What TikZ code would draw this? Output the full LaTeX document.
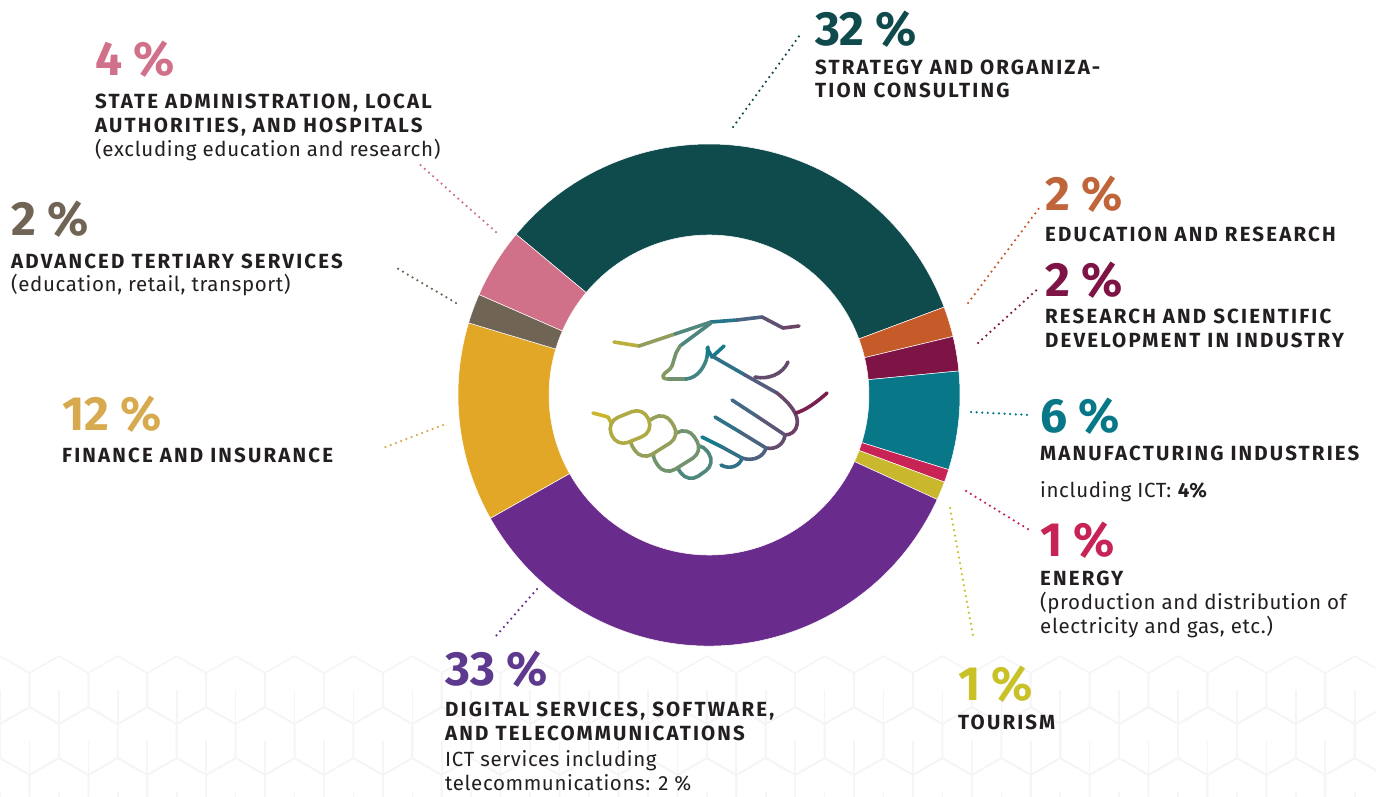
\documentclass[tikz,border=0pt]{standalone}
\usepackage{fontspec}
\setmainfont{Fira Sans}
\newfontfamily\capsfont[LetterSpace=10.5]{Fira Sans}
\newfontfamily\subfont[LetterSpace=3]{Fira Sans}

% sector colours
\definecolor{cStrat}{RGB}{15,74,76}
\definecolor{cEdu}{RGB}{198,91,42}
\definecolor{cRsd}{RGB}{126,20,69}
\definecolor{cManu}{RGB}{8,120,137}
\definecolor{cEner}{RGB}{200,35,85}
\definecolor{cTour}{RGB}{201,183,45}
\definecolor{cDigi}{RGB}{106,44,140}
\definecolor{cFin}{RGB}{226,167,38}
\definecolor{cAdv}{RGB}{112,100,84}
\definecolor{cState}{RGB}{208,113,137}
% label colours
\definecolor{cText}{RGB}{35,31,32}
\definecolor{cFinT}{RGB}{216,170,80}
\definecolor{cEduT}{RGB}{192,101,58}
\definecolor{cTourT}{RGB}{201,193,40}
\definecolor{cDigiT}{RGB}{94,58,143}
\definecolor{cHex}{RGB}{247,244,245}
% handshake gradient stops
\definecolor{hA}{RGB}{201,182,42}
\definecolor{hB}{RGB}{176,170,69}
\definecolor{hC}{RGB}{142,156,94}
\definecolor{hD}{RGB}{94,138,122}
\definecolor{hE}{RGB}{21,123,139}
\definecolor{hF}{RGB}{63,108,133}
\definecolor{hG}{RGB}{88,90,124}
\definecolor{hH}{RGB}{107,68,102}
\definecolor{hI}{RGB}{126,20,72}

\tikzset{
  pct/.style={anchor=base west, inner sep=0pt, font=\fontsize{48}{48}\selectfont\bfseries},
  lbl/.style={anchor=base west, inner sep=0pt, text=cText, font=\fontsize{20.5}{24}\selectfont\capsfont\bfseries},
  sub/.style={anchor=base west, inner sep=0pt, text=cText, font=\fontsize{20.5}{24}\selectfont\subfont},
  lead/.style={line width=2.5pt, line cap=round, dash pattern=on 0pt off 5.6pt},
  hexline/.style={draw=cHex, line width=1.6pt},
  hs/.style={line width=3.6pt, line cap=round, line join=round},
  finger/.style={hs, fill=white, rounded corners=12.5pt}
}

\begin{document}
\begin{tikzpicture}[x=1pt,y=1pt,yscale=-1]
\useasboundingbox (0,0) rectangle (1376,796);
\fill[white] (0,0) rectangle (1376,796);

% faint cube pattern at the bottom
\begin{scope}
\clip (0,655) rectangle (1376,796);
\foreach \r in {0,...,3} {
  \foreach \k in {0,...,24} {
    \draw[hexline] ({\k*58.9+mod(\r,2)*29.45},{690+\r*51}) +(30:34) -- +(90:34) -- +(150:34) -- +(210:34) -- +(270:34) -- +(330:34) -- cycle;
    \draw[hexline] ({\k*58.9+mod(\r,2)*29.45},{690+\r*51}) -- +(90:34);
  }
}
\end{scope}

% ring sectors
\foreach \a/\b/\c in {-140.2/-20.5/cStrat, -20.5/-13.5/cEdu, -13.5/-5.5/cRsd, -5.5/17.3/cManu, 17.3/20.3/cEner, 20.3/24.6/cTour, 24.6/150.6/cDigi, 150.6/196.7/cFin, 196.7/203.6/cAdv, 203.6/219.8/cState}
  \fill[\c, draw=white, line width=0.5pt] ([shift={(709,395)}]\a:251) arc[start angle=\a, end angle=\b, radius=251] -- ([shift={(709,395)}]\b:160) arc[start angle=\b, end angle=\a, radius=160] -- cycle;

% handshake: upper arm and thumb
\draw[hs, hA!40!hB] (614,342) -- (639,346);
\draw[hs, hC!90!hB] (639,346) -- (675,334);
\draw[hs, hD!85!hE] (675,334) -- (711,322);
\draw[hs, hE!57!hF] (711,322) -- (737,320);
\draw[hs, hF!60!hG] (737,320) -- (762,317);
\draw[hs, hG!60!hH] (762,317) -- (783,328);
\draw[hs, hH] (783,328) -- (799,326);
\draw[hs, hD!75!hE] (711,323) -- (680,346);
\draw[hs, hC!45!hD] (680,346) -- (676,353) -- (672,366);
\draw[hs, hC!80!hD] (672,366) .. controls (670,371) and (664,372) .. (663,376) .. controls (663,379) and (666,379) .. (670,379);
\draw[hs, hC!40!hD] (670,379) -- (686,379);
\draw[hs, hD!60!hE] (686,379) .. controls (698,378) and (705,366) .. (707,357);
\draw[hs, hD!20!hE] (707,357) -- (708,347);
\draw[hs, hE] (707,348) -- (712,357) -- (724,346);
% handshake: right hand
\draw[hs, hE!43!hF] (712,356) -- (745,375);
\draw[hs, hF!16!hG] (745,375) -- (777,393);
\draw[hs, hH!80!hG] (777,393) .. controls (792,405) and (799,416) .. (797,425);
\draw[hs, hH!90!hI] (797,425) .. controls (796,431) and (791,435) .. (785,435);
\draw[hs, hG!40!hH] (785,435) .. controls (784,444) and (776,450) .. (766,448);
\draw[hs, hF!44!hG] (766,448) .. controls (764,456) and (754,462) .. (742,458);
\draw[hs, hE!32!hF] (742,458) .. controls (740,466) and (730,470) .. (721,465);
\draw[hs, hG!30!hH] (788,362) .. controls (783,374) and (768,380) .. (755,377);
\draw[hs, hI!75!hH] (827,393) .. controls (817,402) and (806,410) .. (796,413);
\draw[hs, hF!80!hG] (732,400) -- (758,417);
\draw[hs, hG!80!hH] (758,417) -- (785,435);
\draw[hs, hE!43!hF] (715,417) -- (740,432);
\draw[hs, hF!48!hG] (740,432) -- (766,448);
\draw[hs, hE] (702,437) -- (722,447);
\draw[hs, hE!29!hF] (722,447) -- (742,458);
% handshake: lower arm and fingers
\draw[hs, hA] (593,413) -- (608,417);
\draw[hs, hA!70!hB] (608,417) -- (613,426);
\foreach \cx/\cy/\l/\w/\t/\c in {694/462/34/28/-35/hD!77!hE, 676/451/46/30/-32/hC!43!hD, 653/436/46/30/-32/hC!80!hB, 630/427/40/27/-22/hB}
  \draw[finger, draw=\c, rotate around={\t:(\cx,\cy)}] ({\cx-\l/2},{\cy-\w/2}) rectangle ({\cx+\l/2},{\cy+\w/2});

% leaders
\coordinate (l32a) at (733,127);  \coordinate (l32b) at (800,35);
\coordinate (l4a) at (496,232);   \coordinate (l4b) at (417,162);
\coordinate (l2aa) at (456,303);  \coordinate (l2ab) at (395,267);
\coordinate (l12a) at (443,425);  \coordinate (l12b) at (383,448);
\coordinate (l33a) at (537,589);  \coordinate (l33b) at (496,636);
\coordinate (l2ea) at (968,303);  \coordinate (l2eb) at (1040,207);
\coordinate (l2ra) at (978,343);  \coordinate (l2rb) at (1040,287);
\coordinate (l6a) at (971,412);   \coordinate (l6b) at (1030,415);
\coordinate (l1ea) at (966,491);  \coordinate (l1eb) at (1031,531);
\coordinate (l1ta) at (950,508);  \coordinate (l1tb) at (973,636);
\draw[lead, cStrat] (l32a) -- (l32b);
\draw[lead, cState] (l4a) -- (l4b);
\draw[lead, cAdv] (l2aa) -- (l2ab);
\draw[lead, cFinT] (l12a) -- (l12b);
\draw[lead, cDigi] (l33a) -- (l33b);
\draw[lead, cEdu] (l2ea) -- (l2eb);
\draw[lead, cRsd] (l2ra) -- (l2rb);
\draw[lead, cManu] (l6a) -- (l6b);
\draw[lead, cEner] (l1ea) -- (l1eb);
\draw[lead, cTourT] (l1ta) -- (l1tb);

% Text Node
\node[pct, text=cStrat] (p32) at (815,45) {32 \%};
\node[lbl] (t32a) at (815,74) {STRATEGY AND ORGANIZA-};
\node[lbl] (t32b) at (815,97) {TION CONSULTING};
% Text Node
\node[pct, text=cState] (p4) at (95,75) {4 \%};
\node[lbl] (t4a) at (95,108.3) {STATE ADMINISTRATION, LOCAL};
\node[lbl] (t4b) at (95,132.7) {AUTHORITIES, AND HOSPITALS};
\node[sub] (t4c) at (95,156.5) {(excluding education and research)};
% Text Node
\node[pct, text=cAdv] (p2a) at (11,235) {2 \%};
\node[lbl] (t2aa) at (11,268.3) {ADVANCED TERTIARY SERVICES};
\node[sub] (t2ab) at (11,291) {(education, retail, transport)};
% Text Node
\node[pct, text=cFinT] (p12) at (62,430) {12 \%};
\node[lbl] (t12) at (62,462) {FINANCE AND INSURANCE};
% Text Node
\node[pct, text=cDigiT] (p33) at (445,685) {33 \%};
\node[lbl] (t33a) at (445,716) {DIGITAL SERVICES, SOFTWARE,};
\node[lbl] (t33b) at (445,740) {AND TELECOMMUNICATIONS};
\node[sub] (t33c) at (445,766) {ICT services including};
\node[sub] (t33d) at (445,790) {telecommunications: 2 \%};
% Text Node
\node[pct, text=cEduT] (p2e) at (1045,210) {2 \%};
\node[lbl] (t2e) at (1045,241) {EDUCATION AND RESEARCH};
% Text Node
\node[pct, text=cRsd] (p2r) at (1045,296) {2 \%};
\node[lbl] (t2ra) at (1045,323) {RESEARCH AND SCIENTIFIC};
\node[lbl] (t2rb) at (1045,347) {DEVELOPMENT IN INDUSTRY};
% Text Node
\node[pct, text=cManu] (p6) at (1040,432) {6 \%};
\node[lbl] (t6a) at (1040,460) {MANUFACTURING INDUSTRIES};
\node[sub] (t6b) at (1040,497) {including ICT: \textbf{4\%}};
% Text Node
\node[pct, text=cEner] (p1e) at (1040,556) {1 \%};
\node[lbl] (t1ea) at (1040,585) {ENERGY};
\node[sub] (t1eb) at (1040,609) {(production and distribution of};
\node[sub] (t1ec) at (1040,633) {electricity and gas, etc.)};
% Text Node
\node[pct, text=cTourT] (p1t) at (958,700) {1 \%};
\node[lbl] (t1t) at (958,729) {TOURISM};

\end{tikzpicture}
\end{document}
